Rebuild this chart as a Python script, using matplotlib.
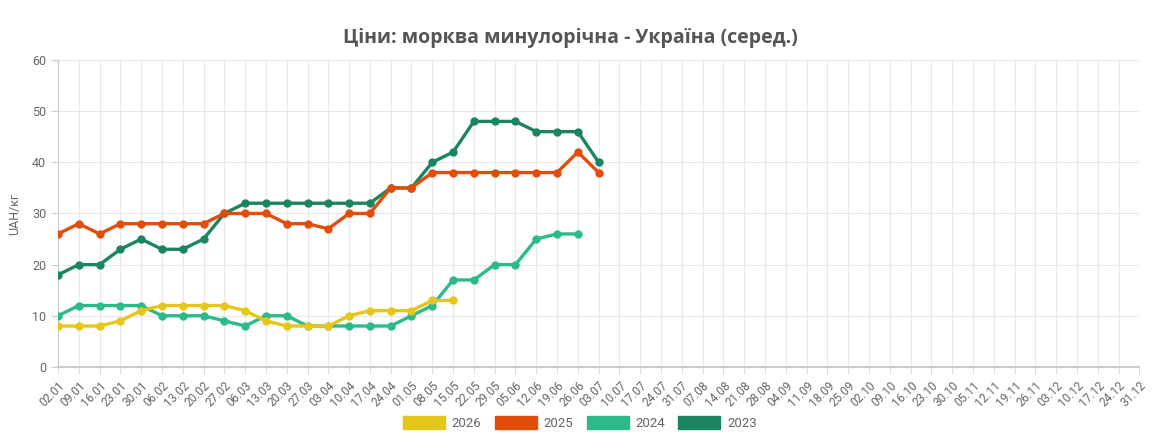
import matplotlib.pyplot as plt
from matplotlib.patches import Patch

weeks = ["02.01", "09.01", "16.01", "23.01", "30.01", "06.02", "13.02", "20.02", "27.02",
         "06.03", "13.03", "20.03", "27.03", "03.04", "10.04", "17.04", "24.04", "01.05",
         "08.05", "15.05", "22.05", "29.05", "05.06", "12.06", "19.06", "26.06", "03.07",
         "10.07", "17.07", "24.07", "31.07", "07.08", "14.08", "21.08", "28.08", "04.09",
         "11.09", "18.09", "25.09", "02.10", "09.10", "16.10", "23.10", "30.10", "05.11",
         "12.11", "19.11", "26.11", "03.12", "10.12", "17.12", "24.12", "31.12"]

y2026 = [8, 8, 8, 9, 11, 12, 12, 12, 12, 11, 9, 8, 8, 8, 10, 11, 11, 11, 13, 13]
y2025 = [26, 28, 26, 28, 28, 28, 28, 28, 30, 30, 30, 28, 28, 27, 30, 30, 35, 35, 38, 38,
         38, 38, 38, 38, 38, 42, 38]
y2024 = [10, 12, 12, 12, 12, 10, 10, 10, 9, 8, 10, 10, 8, 8, 8, 8, 8, 10, 12, 17,
         17, 20, 20, 25, 26, 26]
y2023 = [18, 20, 20, 23, 25, 23, 23, 25, 30, 32, 32, 32, 32, 32, 32, 32, 35, 35, 40, 42,
         48, 48, 48, 46, 46, 46, 40]

series = [("2026", y2026, "#e6c619"),
          ("2025", y2025, "#e24d0c"),
          ("2024", y2024, "#2bbb8a"),
          ("2023", y2023, "#1b8560")]

plt.rcParams['font.family'] = ['Roboto', 'DejaVu Sans']

fig = plt.figure(figsize=(11.69, 4.48), dpi=100)
ax = fig.add_axes([0.0496, 0.181, 0.925, 0.685])

# draw oldest first so newer years sit on top
for name, vals, col in reversed(series):
    ax.plot(range(len(vals)), vals, color=col, lw=2.4, marker="o", ms=5,
            solid_capstyle="round", zorder=3)

ax.set_xlim(0, len(weeks) - 1)
ax.set_ylim(0, 60)
ax.set_xticks(range(len(weeks)))
ax.set_xticklabels(weeks, rotation=45, ha="right", rotation_mode="anchor",
                   fontsize=8.5, color="#666666")
ax.set_yticks(range(0, 61, 10))
ax.tick_params(axis="y", labelsize=9, length=5, width=0.8, colors="#cccccc",
               labelcolor="#666666")
ax.tick_params(axis="x", length=5, width=0.8, colors="#dddddd", labelcolor="#666666")
ax.grid(True, color="#e8e8e8", lw=0.8)
ax.set_axisbelow(True)
for s in ["top", "right"]:
    ax.spines[s].set_visible(False)
ax.spines["left"].set_color("#cccccc")
ax.spines["bottom"].set_color("#cccccc")
ax.spines["bottom"].set_linewidth(1.5)
ax.set_ylabel("UAH/кг", fontsize=9, color="#666666", labelpad=8)

fig.text(0.488, 0.915, "Ціни: морква минулорічна - Україна (серед.)",
         ha="center", va="center", fontsize=14, fontweight="bold",
         color="#555555", family=["Open Sans", "DejaVu Sans"])

handles = [Patch(facecolor=c, edgecolor=c, label=n) for n, v, c in series]
fig.legend(handles=handles, loc="center", bbox_to_anchor=(0.496, 0.056), ncol=4,
           frameon=False, handlelength=3.2, handleheight=1.1, columnspacing=1.0,
           handletextpad=0.5, fontsize=9.5, labelcolor="#666666")

fig.savefig("out.png", dpi=100)
